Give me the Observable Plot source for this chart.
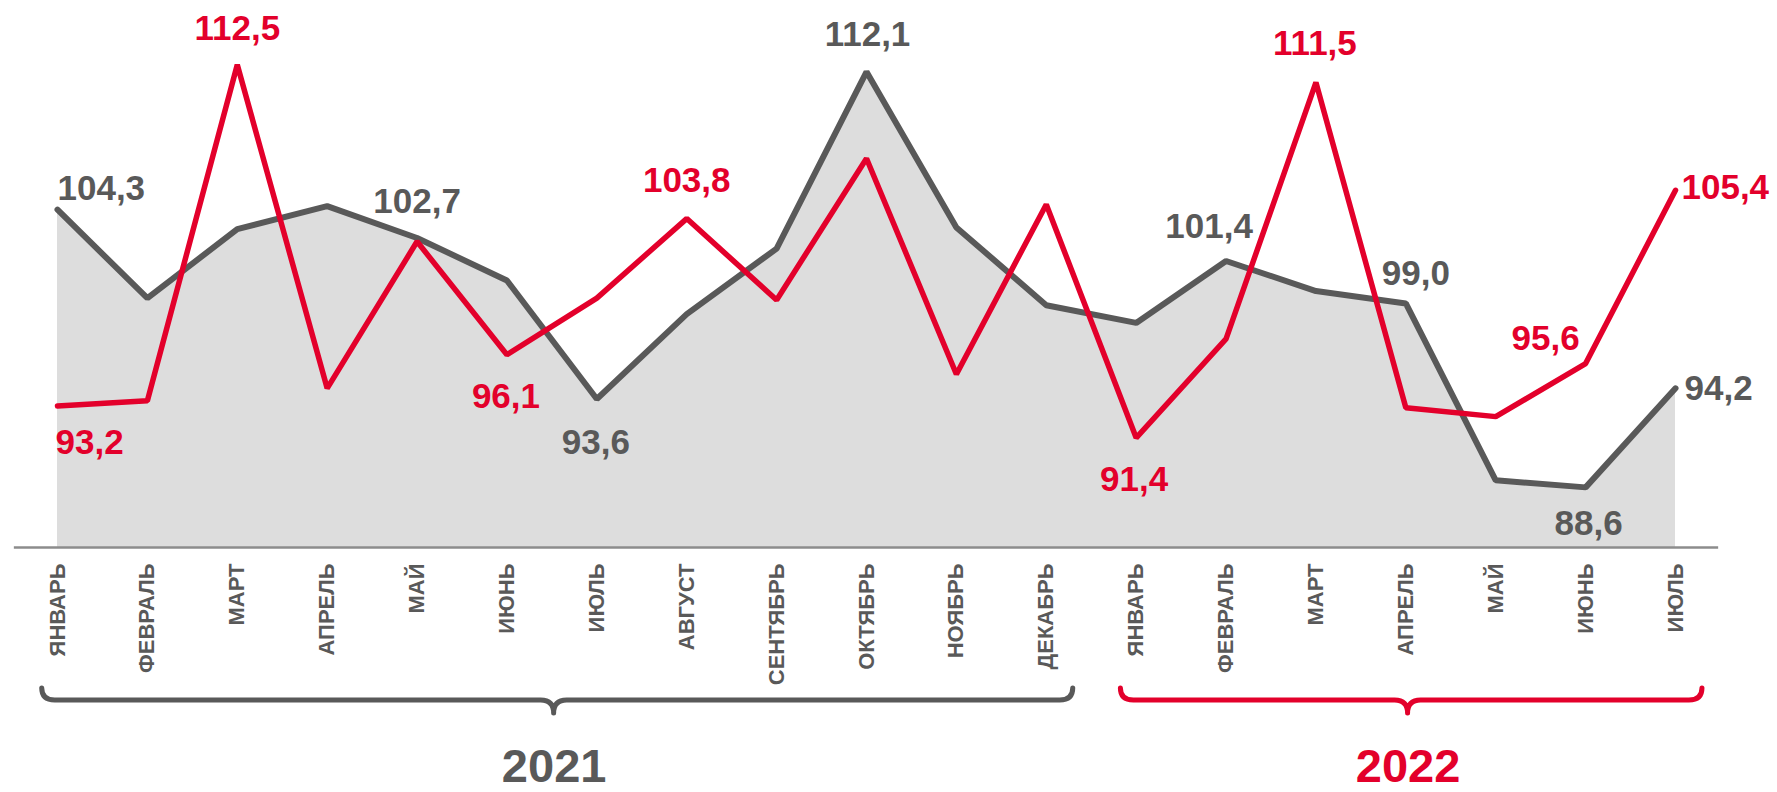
<!DOCTYPE html>
<html><head><meta charset="utf-8">
<script src="https://cdn.jsdelivr.net/npm/d3@7"></script>
<script src="https://cdn.jsdelivr.net/npm/@observablehq/plot@0.6"></script>
<style>html,body{margin:0;padding:0;background:#fff;overflow:hidden}</style>
</head><body><div id="chart"></div>
<script>
// ---- data ----
const months = ["ЯНВАРЬ","ФЕВРАЛЬ","МАРТ","АПРЕЛЬ","МАЙ","ИЮНЬ","ИЮЛЬ","АВГУСТ","СЕНТЯБРЬ","ОКТЯБРЬ","НОЯБРЬ","ДЕКАБРЬ","ЯНВАРЬ","ФЕВРАЛЬ","МАРТ","АПРЕЛЬ","МАЙ","ИЮНЬ","ИЮЛЬ"];
const graySeries = [104.3, 99.3, 103.2, 104.5, 102.7, 100.3, 93.6, 98.4, 102.1, 112.1, 103.3, 98.9, 97.9, 101.4, 99.7, 99.0, 89.0, 88.6, 94.2];
const redSeries  = [93.2, 93.5, 112.5, 94.2, 102.5, 96.1, 99.3, 103.8, 99.2, 107.2, 95.0, 104.6, 91.4, 97.0, 111.5, 93.1, 92.6, 95.6, 105.4];
const grayLabeled = [0, 4, 6, 9, 13, 15, 17, 18];
const redLabeled  = [0, 2, 5, 7, 12, 14, 17, 18];
const years = ["2021", "2022"];
const yearStart = [0, 12];
const yearEnd = [11, 18];

// ---- styling / layout ----
const GRAY = "#595959", RED = "#e3002b", FILL = "#dddddd", AXIS = "#8c8c8c";
const FONT = "'Liberation Sans', Arial, Helvetica, sans-serif";
const yMin = 85.2, yMax = 115;
// label placement: [textAnchor, dx, dy]
const grayPlace = {0:["start",0,-10], 4:["middle",0,-25], 6:["middle",-1,55], 9:["middle",1,-26],
  13:["middle",-17,-23], 15:["middle",10,-18], 17:["middle",3,48], 18:["start",9,12]};
const redPlace = {0:["start",-2,48], 2:["middle",0,-25], 5:["middle",-1,53], 7:["middle",0,-27],
  12:["middle",-2,53], 14:["middle",-1,-27], 17:["middle",-40,-14], 18:["start",6,9]};

const fmt = v => v.toFixed(1).replace(".", ",");
const data = months.map((m, i) => ({i, month: m, gray: graySeries[i], red: redSeries[i]}));

function labelMarks(indices, series, place, color) {
  return indices.map(i => {
    const [anchor, dx, dy] = place[i];
    return Plot.text([{i, v: series[i]}], {
      x: "i", y: "v", text: d => fmt(d.v), textAnchor: anchor, lineAnchor: "bottom",
      dx, dy, fontSize: 35, fontWeight: "bold", fill: color
    });
  });
}

const yearData = years.map((y, k) => ({year: y, mid: (yearStart[k] + yearEnd[k] + 0.05) / 2, k}));

const chart = Plot.plot({
  width: 1777, height: 792,
  marginLeft: 57, marginRight: 102, marginTop: 20, marginBottom: 245,
  x: {domain: [0, 18], axis: null},
  y: {domain: [yMin, yMax], axis: null},
  style: {fontFamily: FONT, background: "white", overflow: "visible"},
  marks: [
    Plot.areaY(data, {x: "i", y1: yMin, y2: "gray", fill: FILL}),
    Plot.ruleY([yMin], {x1: -0.48, x2: 18.48, stroke: AXIS, strokeWidth: 2.5}),
    Plot.line(data, {x: "i", y: "gray", stroke: GRAY, strokeWidth: 6, strokeLinejoin: "miter", strokeLinecap: "round"}),
    Plot.line(data, {x: "i", y: "red", stroke: RED, strokeWidth: 5.5, strokeLinejoin: "miter", strokeLinecap: "round"}),
    Plot.text(data, {x: "i", y: yMin, text: "month", rotate: -90, textAnchor: "end", dy: 16,
      fontSize: 22, fontWeight: "bold", fill: GRAY}),
    ...labelMarks(grayLabeled, graySeries, grayPlace, GRAY),
    ...labelMarks(redLabeled, redSeries, redPlace, RED),
    Plot.text(yearData, {x: "mid", y: yMin, text: "year", lineAnchor: "bottom", dy: 234,
      fontSize: 47, fontWeight: "bold", fill: d => d.k === 0 ? GRAY : RED})
  ]
});

// braces drawn from the x and y scales
const xs = chart.scale("x"), ys = chart.scale("y");
const base = ys.apply(yMin);
const svg = d3.select(chart);
years.forEach((yr, k) => {
  const x0 = xs.apply(yearStart[k] - 0.17), x1 = xs.apply(yearEnd[k] + 0.3);
  const xm = xs.apply((yearStart[k] + yearEnd[k] + 0.05) / 2);
  const yTop = base + 141, yLine = base + 153, yTip = base + 166, r = 13;
  const p = `M${x0},${yTop} Q${x0},${yLine} ${x0 + r},${yLine} L${xm - r},${yLine} Q${xm},${yLine} ${xm},${yTip} Q${xm},${yLine} ${xm + r},${yLine} L${x1 - r},${yLine} Q${x1},${yLine} ${x1},${yTop}`;
  svg.append("path").attr("d", p).attr("fill", "none")
    .attr("stroke", k === 0 ? GRAY : RED).attr("stroke-width", 5)
    .attr("stroke-linecap", "round").attr("stroke-linejoin", "round");
});

document.getElementById("chart").appendChild(chart);
</script>
</body></html>
